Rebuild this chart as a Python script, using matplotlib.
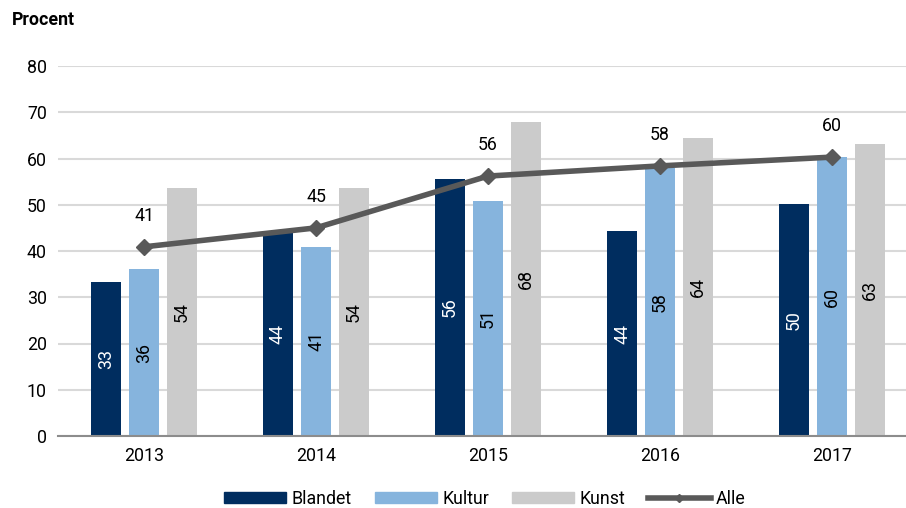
import matplotlib
matplotlib.use("Agg")
import matplotlib.pyplot as plt
import numpy as np
from matplotlib.lines import Line2D
from matplotlib.patches import Patch

years = ["2013", "2014", "2015", "2016", "2017"]
blandet = [33.3, 44.1, 55.6, 44.3, 50.2]
kultur = [36.1, 40.9, 50.8, 57.9, 60.3]
kunst = [53.6, 53.6, 67.9, 64.4, 63.1]
alle = [40.9, 45.0, 56.2, 58.4, 60.3]

plt.rcParams["font.family"] = ["Roboto", "DejaVu Sans"]

c_bl = "#002d5f"
c_ku = "#86b4dd"
c_kn = "#cbcbcb"
c_al = "#595959"

fs = 12.8

fig = plt.figure(figsize=(9.06, 5.08), dpi=100)
ax = fig.add_axes([58 / 906, (508 - 436) / 508, (906 - 58) / 906, (436 - 66) / 508])

x = np.arange(len(years))
w = 0.174
off = 0.221
series = [(blandet, c_bl, -off, "white"), (kultur, c_ku, 0.0, "black"), (kunst, c_kn, off, "black")]
for vals, col, dx, tcol in series:
    bars = ax.bar(x + dx, vals, width=w, color=col, zorder=2)
    for b, v in zip(bars, vals):
        ax.text(b.get_x() + b.get_width() / 2, v / 2, f"{v:.0f}", rotation=90,
                ha="center", va="center", color=tcol, fontsize=fs, zorder=3)

ax.plot(x, alle, color=c_al, lw=4, marker="D", markersize=8, zorder=4)
for xi, v in zip(x, alle):
    ax.annotate(f"{v:.0f}", (xi, v), xytext=(0, 16), textcoords="offset points",
                ha="center", va="bottom", fontsize=fs, color="black")

ax.set_xlim(-0.5, 4.43)
ax.set_ylim(0, 80)
ax.set_yticks(range(0, 81, 10))
ax.set_xticks(x)
ax.set_xticklabels(years)
ax.tick_params(axis="both", length=0, labelsize=fs, pad=8)
ax.grid(axis="y", color="#d9d9d9", lw=1.5, zorder=0)
ax.set_axisbelow(True)
for s in ["top", "right", "left"]:
    ax.spines[s].set_visible(False)
ax.spines["bottom"].set_color("#8c8c8c")
ax.spines["bottom"].set_linewidth(1.5)

fig.text(12 / 906, 1 - 20 / 508, "Procent", fontsize=fs, fontweight="bold", va="center", ha="left")

handles = [Patch(color=c_bl), Patch(color=c_ku), Patch(color=c_kn),
           Line2D([0], [0], color=c_al, lw=4, marker="D", markersize=4)]
fig.legend(handles, ["Blandet", "Kultur", "Kunst", "Alle"], loc="center",
           bbox_to_anchor=(0.535, 1 - 499 / 508), ncol=4, frameon=False, fontsize=fs,
           handlelength=3.5, handleheight=0.6, handletextpad=0.3, columnspacing=1.3,
           borderpad=0.1)

fig.savefig("out.png", dpi=100)
